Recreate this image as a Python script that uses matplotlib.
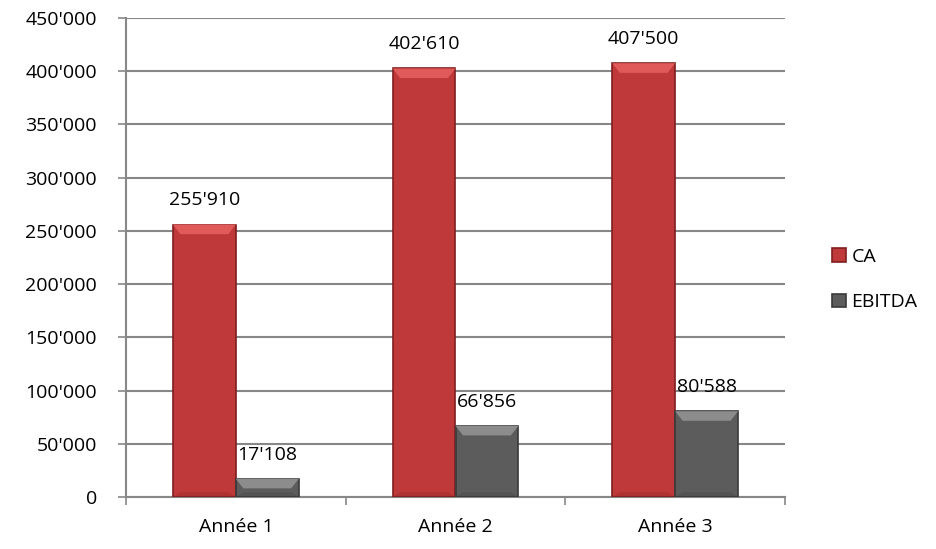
import numpy as np
import matplotlib.pyplot as plt
from matplotlib.patches import Polygon
from matplotlib.ticker import FuncFormatter, FixedLocator

categories = ["Année 1", "Année 2", "Année 3"]
ca = [255910, 402610, 407500]
ebitda = [17108, 66856, 80588]

plt.rcParams['font.family'] = ['Open Sans', 'DejaVu Sans']

fig = plt.figure(figsize=(9.36, 5.49), dpi=100)
ax = fig.add_axes([126/936, 52/549, (785-126)/936, (497-18)/549])

x = np.arange(len(categories))
w = 0.2864
fs = 14

def fmt(v):
    return "{:,}".format(int(v)).replace(",", "'")

def draw(xs, vals, face, edge, light, label):
    bars = ax.bar(xs, vals, w, color=face, edgecolor=edge, linewidth=1.2, label=label, zorder=3)
    # bevel highlight on top of each bar
    for b in bars:
        x0, x1 = b.get_x(), b.get_x() + b.get_width()
        top = b.get_height()
        dx = b.get_width() * 0.12
        dy = 9000
        ax.add_patch(Polygon([[x0, top], [x1, top], [x1 - dx, top - dy], [x0 + dx, top - dy]],
                             closed=True, facecolor=light, edgecolor='none', zorder=4))
        ax.add_patch(Polygon([[x0, 0], [x1, 0], [x1 - dx, dy * 0.5], [x0 + dx, dy * 0.5]],
                             closed=True, facecolor=edge, edgecolor='none', alpha=0.25, zorder=4))
        ax.annotate(fmt(top), (b.get_x() + b.get_width() / 2, top), xytext=(0, 11),
                    textcoords='offset points', ha='center', va='bottom', fontsize=fs, color='black')
    return bars

draw(x - w/2, ca, '#C0393A', '#7E1F1F', '#E05A5A', 'CA')
draw(x + w/2, ebitda, '#5C5C5C', '#3A3A3A', '#8C8C8C', 'EBITDA')

ax.set_xlim(-0.5, 2.5)
ax.set_ylim(0, 450000)
ax.set_yticks(np.arange(0, 450001, 50000))
ax.yaxis.set_major_formatter(FuncFormatter(lambda v, p: fmt(v)))
ax.yaxis.grid(True, color='#878787', linewidth=1.5, zorder=0)
ax.set_axisbelow(True)

ax.xaxis.set_major_locator(FixedLocator([-0.5, 0.5, 1.5, 2.5]))
ax.xaxis.set_major_formatter(FuncFormatter(lambda v, p: ""))
ax.xaxis.set_minor_locator(FixedLocator(x))
ax.set_xticklabels(categories, minor=True)
ax.tick_params(axis='x', which='minor', length=0, labelsize=fs, pad=15)
ax.tick_params(axis='x', which='major', length=6, color='#878787', width=1.2)
ax.tick_params(axis='y', length=6, color='#878787', width=1.2, labelsize=fs, pad=15)

for s in ['top', 'right']:
    ax.spines[s].set_visible(False)
for s in ['left', 'bottom']:
    ax.spines[s].set_color('#878787')
    ax.spines[s].set_linewidth(1.5)

ax.legend(loc='center left', bbox_to_anchor=(1.045, 0.454), frameon=False, fontsize=fs,
          handlelength=0.7, handleheight=0.7, handletextpad=0.3, labelspacing=1.4)

fig.savefig("out.png", dpi=100)
